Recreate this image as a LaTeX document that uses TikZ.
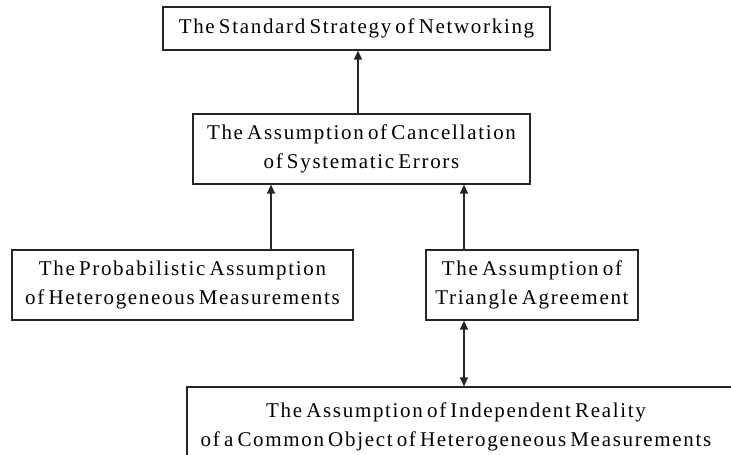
\documentclass[tikz,border=0pt]{standalone}
\usepackage{fontspec}
\setmainfont{Liberation Serif}[LetterSpace=8,WordSpace=0.6]
\usetikzlibrary{arrows.meta}
\begin{document}
\begin{tikzpicture}[x=1pt,y=-1pt,
  frame/.style={draw=black!85,line width=1.2pt,rectangle,inner sep=0pt},
  box/.style={frame,align=center,font=\fontsize{21}{28.5}\selectfont},
  label/.style={align=center,inner sep=0pt,font=\fontsize{21}{29.5}\selectfont},
  conn/.style={draw=black!85,line width=1.3pt,-{Triangle[length=9pt,width=8pt]}},
  dconn/.style={draw=black!85,line width=1.3pt,{Triangle[length=9pt,width=8pt]}-{Triangle[length=9pt,width=8pt]}}]
\useasboundingbox (0,0) rectangle (731,455);
\clip (0,0) rectangle (731,455);
\node[box,minimum width=387pt,minimum height=43pt] (top) at (356.5,28.5) {The Standard Strategy of Networking};
\node[box,minimum width=337pt,minimum height=70pt] (canc) at (361.5,149) {The Assumption of Cancellation\\of Systematic Errors};
\node[box,minimum width=341pt,minimum height=70pt] (prob) at (182.5,285) {The Probabilistic Assumption\\of Heterogeneous Measurements};
\node[box,minimum width=212pt,minimum height=70pt] (tri) at (532,285) {The Assumption of\\Triangle Agreement};
\node[frame,minimum width=580pt,minimum height=90pt] (ind) at (477,432) {};
\node[label] (indtext) at (456,427) {The Assumption of Independent Reality\\of a Common Object of Heterogeneous Measurements};
\draw[conn] (canc.north -| 358,0) -- (top.south -| 358,0);
\draw[conn] (prob.north -| 271,0) -- (canc.south -| 271,0);
\draw[conn] (tri.north -| 464,0) -- (canc.south -| 464,0);
\draw[dconn] (tri.south -| 464,0) -- (ind.north -| 464,0);
\end{tikzpicture}
\end{document}
